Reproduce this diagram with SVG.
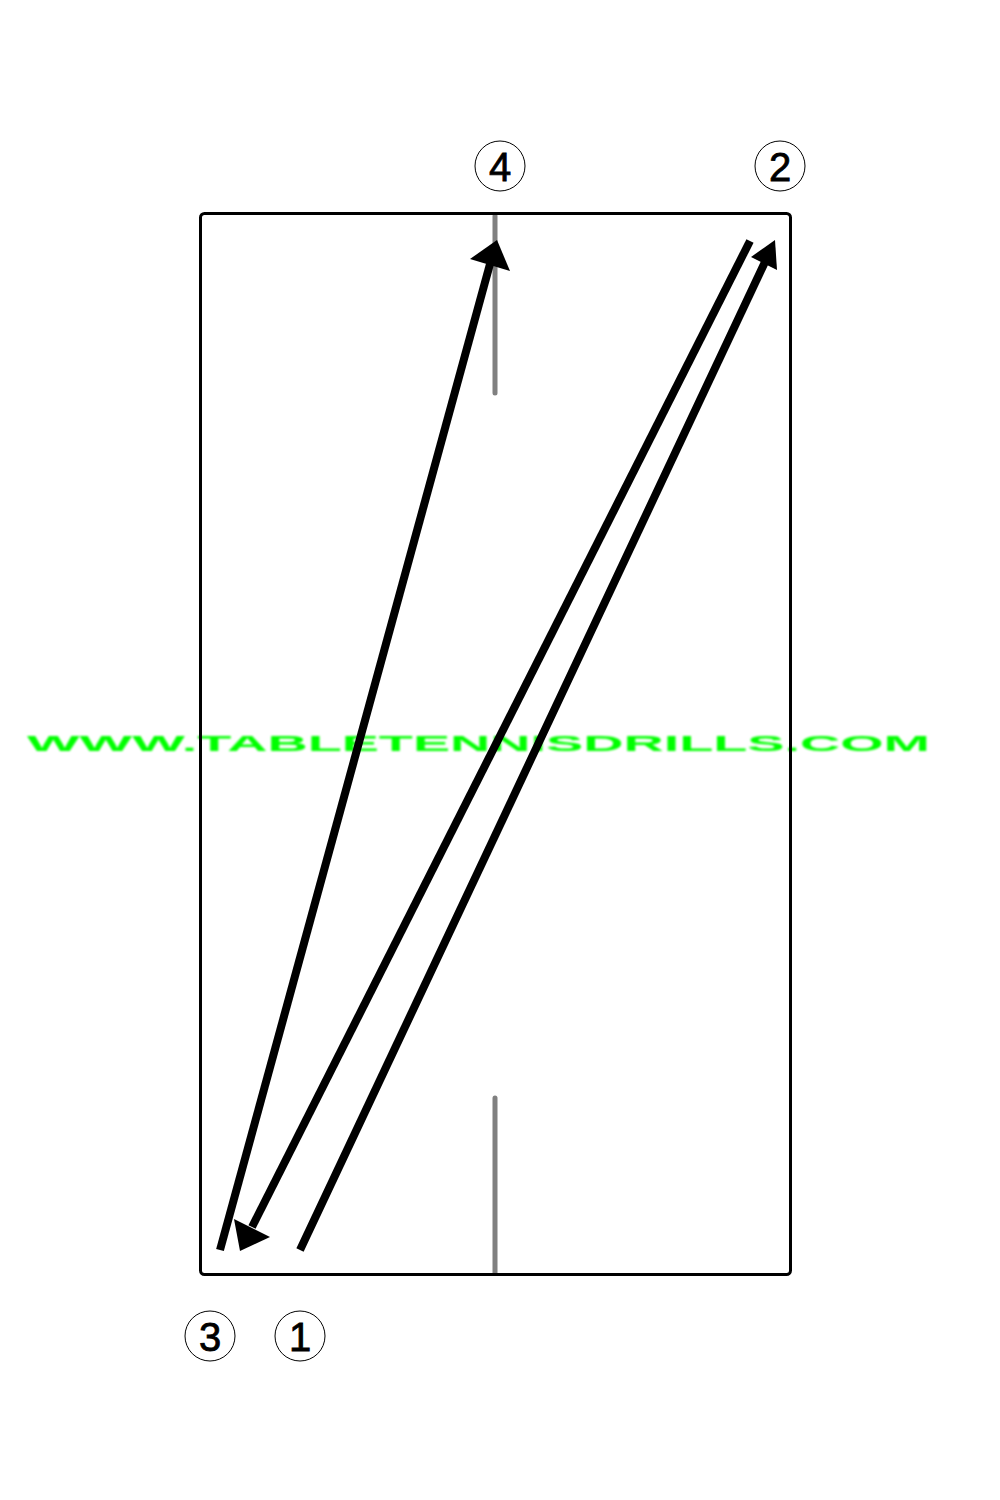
<svg xmlns="http://www.w3.org/2000/svg" width="1000" height="1500" viewBox="0 0 1000 1500">
<style>
.lbl{font-family:"Liberation Sans",Arial,sans-serif;font-size:40px;fill:#000;stroke:#000;stroke-width:0.8;text-anchor:middle}
.circ{fill:#fff;stroke:#000;stroke-width:1}
.shot{stroke:#000;stroke-width:8;fill:none}
.head{fill:#000}
.cl{stroke:#808080;stroke-width:5;stroke-linecap:round}
</style>
<defs>
<filter id="blur" x="-5%" y="-50%" width="110%" height="200%"><feGaussianBlur stdDeviation="1"/></filter>
</defs>
<rect width="1000" height="1500" fill="#fff"/>
<g id="table">
<rect x="200.5" y="213.5" width="590" height="1061" rx="4" fill="#fff"/>
<line class="cl" x1="495" y1="216" x2="495" y2="393"/>
<line class="cl" x1="495" y1="1098" x2="495" y2="1273"/>
</g>
<g id="watermark">
<text x="27" y="751" font-family="'Liberation Sans',Arial,sans-serif" font-weight="bold" font-size="22" fill="#00ff00" textLength="903" lengthAdjust="spacingAndGlyphs" filter="url(#blur)">WWW.TABLETENNISDRILLS.COM</text>
</g>
<g id="table-border">
<rect x="200.5" y="213.5" width="590" height="1061" rx="4" fill="none" stroke="#000" stroke-width="3"/>
</g>
<g id="connectors">
<line class="shot" x1="300" y1="1250" x2="765" y2="262"/>
<polygon class="head" points="775,240 777,270 751,257"/>
<line class="shot" x1="750" y1="241" x2="252" y2="1227"/>
<polygon class="head" points="240,1251 270,1237 234,1219"/>
<line class="shot" x1="220" y1="1250" x2="490" y2="264"/>
<polygon class="head" points="497,240 510,271 470,259"/>
</g>
<g id="n4"><circle class="circ" cx="500" cy="166" r="25"/><text class="lbl" x="500" y="181">4</text></g>
<g id="n2"><circle class="circ" cx="780" cy="166" r="25"/><text class="lbl" x="780" y="181">2</text></g>
<g id="n3"><circle class="circ" cx="210" cy="1336" r="25"/><text class="lbl" x="210" y="1351">3</text></g>
<g id="n1"><circle class="circ" cx="300" cy="1336" r="25"/><text class="lbl" x="300" y="1351">1</text></g>
</svg>
